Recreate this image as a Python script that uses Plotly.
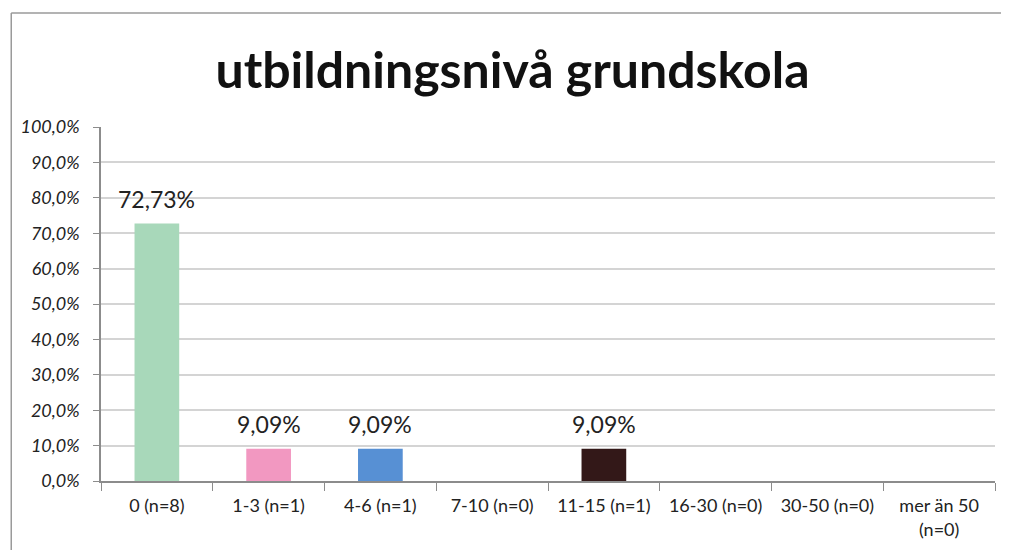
import plotly.graph_objects as go

categories = ["0 (n=8)", "1-3 (n=1)", "4-6 (n=1)", "7-10 (n=0)", "11-15 (n=1)",
              "16-30 (n=0)", "30-50 (n=0)", "mer än 50<br>(n=0)"]
percent = [72.73, 9.09, 9.09, 0, 9.09, 0, 0, 0]
bar_colors = ["#A8D8BA", "#F298C1", "#5790D4", "#A8D8BA", "#331818",
              "#A8D8BA", "#A8D8BA", "#A8D8BA"]
y_ticks = [0, 10, 20, 30, 40, 50, 60, 70, 80, 90, 100]
y_tick_text = [f"{v:.1f}".replace(".", ",") + "%" for v in y_ticks]

labels = [(f"{v:.2f}".replace(".", ",") + "%") if v > 0 else "" for v in percent]

fig = go.Figure()
fig.add_trace(go.Bar(
    x=categories, y=percent, marker=dict(color=bar_colors, line=dict(width=0)),
    width=0.4,
))

# value labels above the bars
for cat, v, lab in zip(categories, percent, labels):
    if lab:
        fig.add_annotation(x=cat, y=v, text=lab, showarrow=False, yanchor="middle",
                           yshift=25, font=dict(family="Lato", size=23, color="#222222"))

fig.update_layout(
    width=1009, height=550,
    margin=dict(l=91, r=22, t=119, b=77),
    paper_bgcolor="white", plot_bgcolor="white",
    showlegend=False,
    title=dict(text="<b>utbildningsnivå grundskola</b>", x=0.5, xref="container",
               xanchor="center", y=1 - 62 / 550, yanchor="middle",
               font=dict(family="Lato", size=50, color="#111111")),
    yaxis=dict(range=[0, 100], tickvals=y_ticks, ticktext=y_tick_text,
               showgrid=True, gridcolor="#D4D4D4", gridwidth=1.5,
               showline=True, linecolor="#8C8C8C", linewidth=1.5,
               ticks="outside", ticklen=6, tickcolor="#8C8C8C", ticklabelstandoff=10,
               tickfont=dict(family="Lato", size=18, color="#222222", style="italic"),
               zeroline=False),
    xaxis=dict(showline=True, linecolor="#8C8C8C", linewidth=1.5,
               ticks="outside", tickson="boundaries", ticklen=8, tickcolor="#8C8C8C",
               ticklabelstandoff=8,
               tickfont=dict(family="Lato", size=18, color="#222222")),
    bargap=0.6,
)

# outer chart frame (left and top edges visible)
fig.add_shape(type="line", xref="paper", yref="paper", x0=-0.1004, x1=-0.1004,
              y0=-0.3, y1=1.322, line=dict(color="#9A9A9A", width=1.5))
fig.add_shape(type="line", xref="paper", yref="paper", x0=-0.1004, x1=1.03,
              y0=1.322, y1=1.322, line=dict(color="#9A9A9A", width=1.5))

fig.write_html("out.html")
